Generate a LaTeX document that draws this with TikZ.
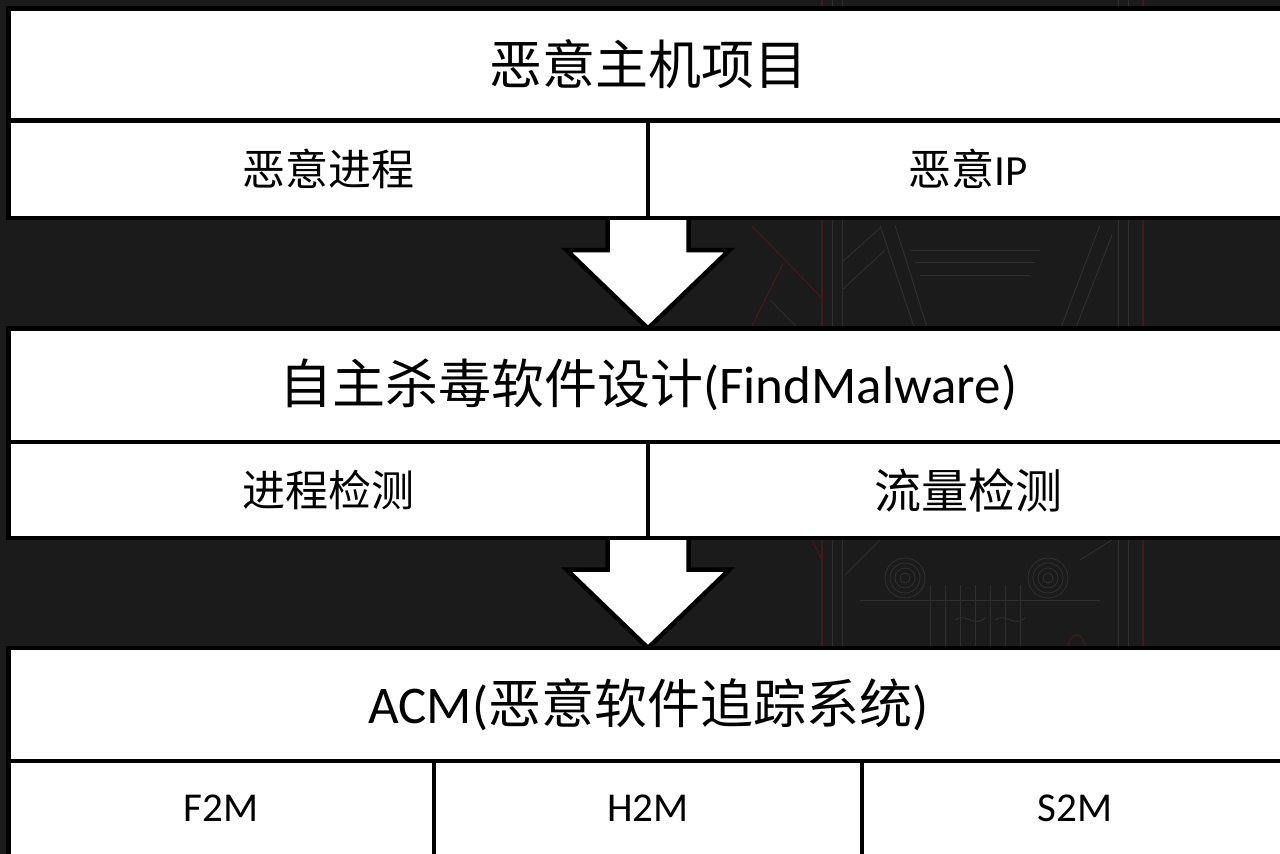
\documentclass[tikz,border=0pt]{standalone}
\usepackage{fontspec}
\setmainfont{Carlito}
\newfontfamily\cjk{Noto Sans CJK SC}
\usetikzlibrary{calc}
\definecolor{bgdark}{HTML}{1B1B1B}
\definecolor{artgray}{HTML}{303030}
\definecolor{artred}{HTML}{421A1C}
\pgfdeclarelayer{bg}
\pgfdeclarelayer{arrows}
\pgfsetlayers{bg,arrows,main}

\begin{document}
\begin{tikzpicture}[x=1pt,y=-1pt,
  cell/.style={draw=black, fill=white, line width=4.5pt, inner sep=0pt,
               outer sep=0pt, anchor=center},
  titlecell/.style={cell, font=\fontsize{53}{60}\selectfont},
  subcell/.style={cell, font=\fontsize{43}{50}\selectfont},
  leafcell/.style={cell, font=\fontsize{41}{48}\selectfont},
  blockarrow/.style={draw=black, fill=white, line width=4.5pt, line join=miter},
  artline/.style={draw=artgray, line width=0.9pt},
  artredline/.style={draw=artred, line width=1.2pt}]

\useasboundingbox (0,0) rectangle (1280,854);

% ---- top block: malicious host project
\node[titlecell, minimum width=1279.5pt, minimum height=112pt] (t1) at (648.25,64.5)
  {\cjk 恶意主机项目};
\node[subcell, minimum width=639.5pt, minimum height=97.5pt] (r1a) at (328.25,169.25)
  {\cjk 恶意进程};
\node[subcell, minimum width=640pt, minimum height=97.5pt] (r1b) at (968,169.25)
  {{\cjk 恶意}IP};

% ---- middle block: FindMalware
\node[titlecell, minimum width=1279.5pt, minimum height=113.5pt] (t2) at (648.25,385.25)
  {{\cjk 自主杀毒软件设计}(FindMalware)};
\node[subcell, minimum width=639.5pt, minimum height=96pt] (r2a) at (328.25,490)
  {\cjk 进程检测};
\node[subcell, font=\fontsize{47}{54}\selectfont, minimum width=640pt, minimum height=96pt]
  (r2b) at (968,490) {\cjk 流量检测};

% ---- bottom block: ACM
\node[titlecell, minimum width=1279.5pt, minimum height=113pt] (t3) at (648.25,704.5)
  {ACM({\cjk 恶意软件追踪系统})};
\node[leafcell, minimum width=425.5pt, minimum height=95pt] (b1) at (221.25,808.5) {F2M};
\node[leafcell, minimum width=428pt, minimum height=95pt] (b2) at (648,808.5) {H2M};
\node[leafcell, minimum width=426pt, minimum height=95pt] (b3) at (1075,808.5) {S2M};

% ---- block arrows between the stages
\begin{pgfonlayer}{arrows}
\coordinate (a1s) at (r1a.south east);
\coordinate (a1t) at (a1s |- t2.north);
\draw[blockarrow] ($(a1s)+(-40.5,-4)$) -- ($(a1t)+(-40.5,-78.5)$)
  -- ($(a1t)+(-81.5,-78.5)$) -- (a1t) -- ($(a1t)+(81.5,-78.5)$)
  -- ($(a1t)+(40.5,-78.5)$) -- ($(a1s)+(40.5,-4)$) -- cycle;
\coordinate (a2s) at (r2a.south east);
\coordinate (a2t) at (a2s |- t3.north);
\draw[blockarrow] ($(a2s)+(-40.5,-4)$) -- ($(a2t)+(-40.5,-78.5)$)
  -- ($(a2t)+(-81.5,-78.5)$) -- (a2t) -- ($(a2t)+(81.5,-78.5)$)
  -- ($(a2t)+(40.5,-78.5)$) -- ($(a2s)+(40.5,-4)$) -- cycle;
\end{pgfonlayer}

% ---- dark backdrop with faint line art
\begin{pgfonlayer}{bg}
\fill[bgdark] (0,0) rectangle (1280,854);
\draw[artredline] (822,0) -- (822,854);
\draw[artredline] (1143,0) -- (1143,854);
\draw[artredline] (750,330) -- (783,264);
\draw[artredline] (752,226) -- (822,298);
\draw[artredline] (822,560) -- (812,540);
\draw[artline] (832,0) -- (832,854);
\draw[artline] (842,0) -- (842,854);
\draw[artline] (1118,0) -- (1118,854);
\draw[artline] (1128,0) -- (1128,854);
\draw[artline] (770,300) -- (800,330);
\draw[artline] (842,262) -- (880,228);
\draw[artline] (842,290) -- (885,250);
\draw[artline] (880,225) -- (915,330);
\draw[artline] (895,225) -- (928,330);
\draw[artline] (1100,225) -- (1060,330);
\draw[artline] (1112,235) -- (1075,330);
\draw[artline] (910,250) -- (1040,250);
\draw[artline] (915,262) -- (1035,262);
\draw[artline] (920,275) -- (1030,275);
\draw[artline] (860,600) -- (1100,600);
\draw[artline] (880,540) -- (845,575);
\draw[artline] (1080,560) -- (1112,540);
\foreach \r in {5,10,15,20} {
  \draw[artline] (905,578) circle (\r);
  \draw[artline] (1048,578) circle (\r);
}
\foreach \x in {930,945,960,975,990,1005,1020} {
  \draw[artline] (\x,585) -- (\x,650);
}
\draw[artline] (955,620) .. controls (965,612) and (975,628) .. (985,618);
\draw[artline] (995,620) .. controls (1005,612) and (1015,628) .. (1025,618);
\draw[artredline] (1068,650) .. controls (1068,630) and (1085,630) .. (1085,650);
\end{pgfonlayer}
\end{tikzpicture}
\end{document}
